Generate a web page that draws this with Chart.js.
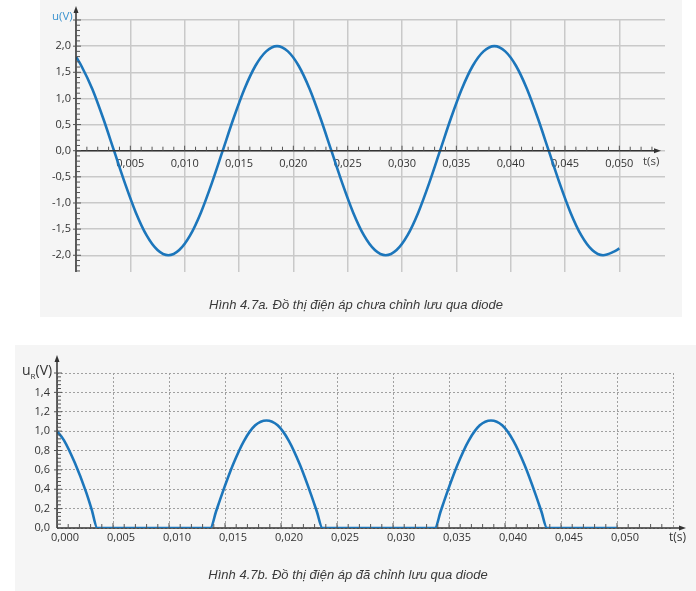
<!DOCTYPE html>
<html>
<head>
<meta charset="utf-8">
<script src="https://cdn.jsdelivr.net/npm/chart.js@4/dist/chart.umd.min.js"></script>
<style>
  html, body { margin:0; padding:0; background:#ffffff; }
  body { width:696px; height:591px; position:relative; overflow:hidden; font-family:'Open Sans', sans-serif; }
  .panel { position:absolute; background:#f5f5f5; }
  canvas { position:absolute; }
  .lbl { position:absolute; white-space:nowrap; }
  .cap { position:absolute; font-family:'Liberation Sans', Arial, sans-serif; font-style:italic; font-size:13px; color:#3a3a3a; white-space:nowrap; transform:translateX(-50%); }
</style>
</head>
<body>
<div class="panel" style="left:40px;top:0;width:642px;height:317px;"></div>
<div class="panel" style="left:15px;top:345px;width:681px;height:246px;"></div>
<canvas id="cA" width="642" height="317" style="left:40px;top:0;"></canvas>
<canvas id="cB" width="681" height="246" style="left:15px;top:345px;"></canvas>

<div class="lbl" style="left:52px;top:8px;font-size:11.5px;color:#3b93cf;">u(V)</div>
<div class="lbl" style="left:643px;top:153px;font-size:11.5px;color:#444;">t(s)</div>
<div class="cap" style="left:356px;top:297px;">Hình 4.7a. Đồ thị điện áp chưa chỉnh lưu qua diode</div>

<div class="lbl" style="left:22px;top:360px;font-size:14px;color:#333;">u<sub style="font-size:8px;">R</sub>(V)</div>
<div class="lbl" style="left:669px;top:528px;font-size:12px;color:#333;">t(s)</div>
<div class="cap" style="left:348px;top:567px;">Hình 4.7b. Đồ thị điện áp đã chỉnh lưu qua diode</div>

<script>
// ---- Data (time in ms, voltage in V) ----
const tTop = [0, 0.5, 1.5, 2.5, 3.5, 4.5, 5.5, 6.5, 7.5, 8.5, 9.5, 10.5, 11.5, 12.5, 13.5, 14.5, 15.5, 16.5, 17.5, 18.5, 19.5,
  20.5, 21.5, 22.5, 23.5, 24.5, 25.5, 26.5, 27.5, 28.5, 29.5, 30.5, 31.5, 32.5, 33.5, 34.5, 35.5, 36.5, 37.5, 38.5, 39.5,
  40.5, 41.5, 42.5, 43.5, 44.5, 45.5, 46.5, 47.5, 48.5, 49.5, 50.0];
const uTop = [1.80, 1.62, 1.18, 0.62, 0.00, -0.62, -1.18, -1.62, -1.90, -2.00, -1.90, -1.62, -1.18, -0.62, 0.00, 0.62, 1.18, 1.62, 1.90, 2.00, 1.90,
  1.62, 1.18, 0.62, 0.00, -0.62, -1.18, -1.62, -1.90, -2.00, -1.90, -1.62, -1.18, -0.62, 0.00, 0.62, 1.18, 1.62, 1.90, 2.00, 1.90,
  1.62, 1.18, 0.62, 0.00, -0.62, -1.18, -1.62, -1.90, -2.00, -1.93, -1.87];

const tBot = [0, 0.6, 1.6, 2.6, 3.1, 3.6, 13.7, 14.2, 14.7, 15.7, 16.7, 17.7, 18.7, 19.7, 20.7, 21.7, 22.7, 23.2, 23.7,
  33.75, 34.25, 34.75, 35.75, 36.75, 37.75, 38.75, 39.75, 40.75, 41.75, 42.75, 43.25, 43.75, 50.0];
const uBot = [1.00, 0.91, 0.67, 0.37, 0.19, 0.00, 0.00, 0.17, 0.34, 0.65, 0.90, 1.06, 1.11, 1.06, 0.90, 0.65, 0.34, 0.17, 0.00,
  0.00, 0.17, 0.34, 0.65, 0.90, 1.06, 1.11, 1.06, 0.90, 0.65, 0.34, 0.17, 0.00, 0.00];

// ---- Tick labels (ascending order of tick values) ----
const xTickLabelsTop = ['', '0,005', '0,010', '0,015', '0,020', '0,025', '0,030', '0,035', '0,040', '0,045', '0,050'];
const yTickLabelsTop = ['-2,0', '-1,5', '-1,0', '-0,5', '0,0', '0,5', '1,0', '1,5', '2,0', ''];
const xTickLabelsBot = ['0,000', '0,005', '0,010', '0,015', '0,020', '0,025', '0,030', '0,035', '0,040', '0,045', '0,050', ''];
const yTickLabelsBot = ['0,0', '0,2', '0,4', '0,6', '0,8', '1,0', '1,2', '1,4', ''];

const tickFont = { family: "'Open Sans', sans-serif", size: 11 };
const tickColor = '#333333';
const lineColor = '#1c76bb';

function axesPlugin(cfg) {
  return {
    id: 'axesArrows',
    afterDatasetsDraw(chart) {
      const { ctx, chartArea, scales } = chart;
      const x = scales.x, y = scales.y;
      const x0 = x.getPixelForValue(0), y0 = y.getPixelForValue(0);
      const xEnd = chartArea.right + cfg.xEndOffset;
      const yTop = chartArea.top + cfg.yTopOffset;
      ctx.save();
      ctx.strokeStyle = '#333'; ctx.fillStyle = '#333'; ctx.lineWidth = 1.5;
      ctx.beginPath(); ctx.moveTo(x0, chartArea.bottom); ctx.lineTo(x0, yTop + 2); ctx.stroke();
      ctx.beginPath(); ctx.moveTo(x0, yTop - 3); ctx.lineTo(x0 - 2.5, yTop + 4); ctx.lineTo(x0 + 2.5, yTop + 4); ctx.closePath(); ctx.fill();
      if (cfg.axisUnderLine) {
        ctx.beginPath(); ctx.moveTo(x0, y0); ctx.lineTo(xEnd - 2, y0); ctx.stroke();
      }
      ctx.beginPath(); ctx.moveTo(xEnd + 3, y0); ctx.lineTo(xEnd - 4, y0 - 2.5); ctx.lineTo(xEnd - 4, y0 + 2.5); ctx.closePath(); ctx.fill();
      ctx.lineWidth = 1; ctx.strokeStyle = '#555';
      for (let t = cfg.xMinorStep; t < cfg.xMinorMax; t += cfg.xMinorStep) {
        const px = x.getPixelForValue(t);
        const major = Math.abs(t / 5 - Math.round(t / 5)) < 1e-6;
        ctx.beginPath(); ctx.moveTo(px, y0); ctx.lineTo(px, y0 - (major ? 5 : 4)); ctx.stroke();
      }
      for (let v = cfg.yMinorMin; v <= cfg.yMinorMax + 1e-9; v += cfg.yMinorStep) {
        const py = y.getPixelForValue(v);
        if (py < yTop + 4 || py > chartArea.bottom) continue;
        const major = Math.abs(v / cfg.yMajor - Math.round(v / cfg.yMajor)) < 1e-6;
        ctx.beginPath(); ctx.moveTo(x0 - (major ? 3 : 0), py); ctx.lineTo(x0 + (major ? 5 : 4), py); ctx.stroke();
      }
      ctx.restore();
    }
  };
}

// axis line drawn beneath the data line for chart B
const underAxis = {
  id: 'underAxis',
  beforeDatasetsDraw(chart) {
    const { ctx, chartArea, scales } = chart;
    const x0 = scales.x.getPixelForValue(0), y0 = scales.y.getPixelForValue(0);
    ctx.save(); ctx.strokeStyle = '#333'; ctx.lineWidth = 1.5;
    ctx.beginPath(); ctx.moveTo(x0, y0); ctx.lineTo(chartArea.right + 8, y0); ctx.stroke();
    ctx.restore();
  }
};

// ---- Chart A: unrectified ----
new Chart(document.getElementById('cA'), {
  type: 'line',
  data: { datasets: [{ data: tTop.map((t, i) => ({ x: t, y: uTop[i] })), borderColor: lineColor, borderWidth: 2.6,
    pointRadius: 0, fill: false, cubicInterpolationMode: 'monotone' }] },
  options: {
    responsive: false, animation: false, devicePixelRatio: 1,
    layout: { padding: { left: 0, right: 17, top: 20, bottom: 45 } },
    plugins: { legend: { display: false }, tooltip: { enabled: false } },
    scales: {
      x: { type: 'linear', position: { y: 0 }, min: 0, max: 54.2,
        afterFit: s => { s.height = 0; },
        grid: { color: '#c9c9c9', lineWidth: 1.5, drawTicks: false },
        border: { display: false },
        ticks: { stepSize: 5, includeBounds: false, maxTicksLimit: 30, autoSkip: false, maxRotation: 0, padding: 7,
          font: tickFont, color: tickColor, callback: (v, i) => xTickLabelsTop[i] ?? '' } },
      y: { type: 'linear', position: 'left', min: -2.32, max: 2.5,
        afterFit: s => { s.width = 36; },
        grid: { color: '#c9c9c9', lineWidth: 1.5, drawTicks: false },
        border: { display: false },
        ticks: { stepSize: 0.5, includeBounds: false, maxTicksLimit: 30, padding: 5,
          font: tickFont, color: tickColor, callback: (v, i) => yTickLabelsTop[i] ?? '' } }
    }
  },
  plugins: [axesPlugin({ axisUnderLine: true, xEndOffset: -7, yTopOffset: -11, xMinorStep: 1, xMinorMax: 54, yMinorMin: -2.3, yMinorMax: 2.5, yMinorStep: 0.1, yMajor: 0.5 })]
});

// ---- Chart B: rectified ----
new Chart(document.getElementById('cB'), {
  type: 'line',
  data: { datasets: [{ data: tBot.map((t, i) => ({ x: t, y: uBot[i] })), borderColor: lineColor, borderWidth: 2.6,
    pointRadius: 0, fill: false, cubicInterpolationMode: 'monotone' }] },
  options: {
    responsive: false, animation: false, devicePixelRatio: 1,
    layout: { padding: { left: 0, right: 23, top: 28, bottom: 43 } },
    plugins: { legend: { display: false }, tooltip: { enabled: false } },
    scales: {
      x: { type: 'linear', position: 'bottom', min: 0, max: 55,
        afterFit: s => { s.height = 20; },
        grid: { color: '#a0a0a0', lineWidth: 1, drawTicks: false },
        border: { display: false, dash: [2, 2] },
        ticks: { stepSize: 5, includeBounds: false, maxTicksLimit: 30, autoSkip: false, maxRotation: 0, padding: 3, labelOffset: 8,
          font: tickFont, color: tickColor, callback: (v, i) => xTickLabelsBot[i] ?? '' } },
      y: { type: 'linear', position: 'left', min: 0, max: 1.6,
        afterFit: s => { s.width = 42; },
        grid: { color: '#a0a0a0', lineWidth: 1, drawTicks: false },
        border: { display: false, dash: [2, 2] },
        ticks: { stepSize: 0.2, includeBounds: false, maxTicksLimit: 30, padding: 7,
          font: tickFont, color: tickColor, callback: (v, i) => yTickLabelsBot[i] ?? '' } }
    }
  },
  plugins: [underAxis, axesPlugin({ axisUnderLine: false, xEndOffset: 10, yTopOffset: -15, xMinorStep: 1, xMinorMax: 55, yMinorMin: 0.04, yMinorMax: 1.6, yMinorStep: 0.04, yMajor: 0.2 })]
});
</script>
</body>
</html>
